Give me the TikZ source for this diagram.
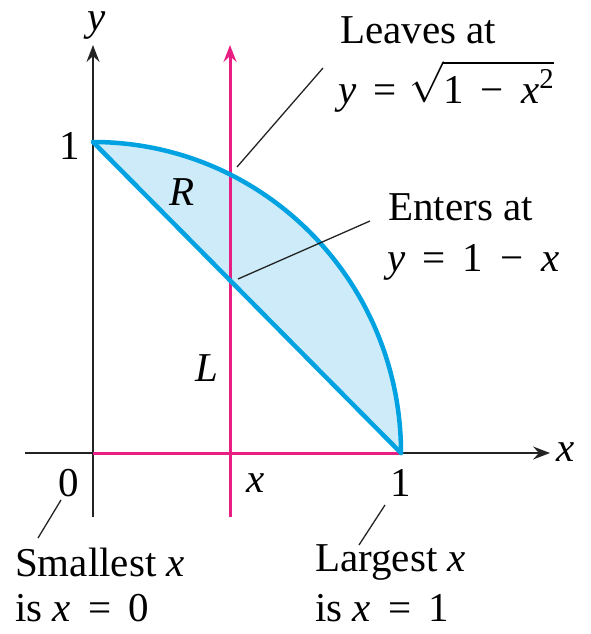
\RequirePackage{fix-cm}
\documentclass[tikz,border=0pt]{standalone}
\usepackage{fontspec}
\setmainfont{Liberation Serif}
\newfontfamily\figfont{Liberation Serif}
\usetikzlibrary{arrows.meta}
\definecolor{curveblue}{RGB}{0,162,225}
\definecolor{fillblue}{RGB}{205,235,248}
\definecolor{mag}{RGB}{232,30,130}
\definecolor{axisgray}{RGB}{35,35,35}
\newcommand{\vx}{\textit{x}}
\newcommand{\vy}{\textit{y}}
\newcommand{\gapw}{\hspace{0.42em}}
\begin{document}
\begin{tikzpicture}[x=1pt,y=-1pt,
  lbl/.style={font=\fontsize{41}{48}\figfont, inner sep=0pt},
  axisline/.style={draw=axisgray, line width=2pt},
  magline/.style={draw=mag, line width=3pt},
  curveline/.style={draw=curveblue, line width=4.5pt, line join=round, line cap=round},
  leader/.style={draw=axisgray, line width=1.3pt},
  tipA/.style={-{Stealth[length=17pt,width=13pt,inset=6pt]}}]
\useasboundingbox (0,0) rectangle (591,634);
% key points
\coordinate (O) at (93,453);
\coordinate (A) at (401,453);
\coordinate (B) at (93,142);
\coordinate (ybot) at (93,517);
\coordinate (ytop) at (93,45);
\coordinate (xleft) at (25,453);
\coordinate (xright) at (550,453);
\coordinate (mbot) at (230,517);
\coordinate (mtop) at (230,45);
% region fill
\fill[fillblue] (B) arc[start angle=-90, end angle=0, x radius=308, y radius=311] -- cycle;
% axes
\draw[axisline, tipA] (ybot) -- (ytop);
\draw[axisline, tipA] (xleft) -- (xright);
% magenta lines
\draw[magline] (O) -- (A);
\draw[magline, tipA] (mbot) -- (mtop);
% boundary curves
\draw[curveline] (B) arc[start angle=-90, end angle=0, x radius=308, y radius=311];
\draw[curveline] (B) -- (A);
% labels
\node[lbl] (ylab) at (97,26) {\vy};
\node[lbl] (xlab) at (566,452) {\vx};
\node[lbl] (oney) at (70,146) {1};
\node[lbl] (zero) at (69,483) {0};
\node[lbl] (xt) at (256,483) {\vx};
\node[lbl] (onex) at (401,483) {1};
\node[lbl] (R) at (182,192) {\textit{R}};
\node[lbl] (L) at (207,368) {\textit{L}};
\node[lbl, anchor=base west] (leaves) at (340,44) {Leaves at};
\node[lbl, anchor=base west] (leaveseq) at (338,103) {\vy\gapw=\hspace{0.3em}$\sqrt{\hbox{\rule{0pt}{0.95em}1\gapw−\gapw\vx\textsuperscript{2}}}$};
\node[lbl, anchor=west] (enters) at (388,207) {Enters at};
\node[lbl, anchor=west] (enterseq) at (387,262) {\vy\gapw=\gapw1\gapw−\gapw\vx};
\node[lbl, anchor=west] (small) at (15,562) {Smallest \vx};
\node[lbl, anchor=west] (smalleq) at (15,608) {is \vx\gapw=\gapw0};
\node[lbl, anchor=west] (large) at (315,562) {Largest \vx};
\node[lbl, anchor=west] (largeeq) at (315,608) {is \vx\gapw=\gapw1};
% leader lines
\coordinate (lv1) at (237,167);
\coordinate (lv2) at (323,68);
\coordinate (en1) at (238,279);
\coordinate (en2) at (370,221);
\coordinate (sm1) at (61,500);
\coordinate (sm2) at (38,538);
\coordinate (lg1) at (385,505);
\coordinate (lg2) at (359,545);
\draw[leader] (lv1) -- (lv2);
\draw[leader] (en1) -- (en2);
\draw[leader] (sm1) -- (sm2);
\draw[leader] (lg1) -- (lg2);
\end{tikzpicture}
\end{document}
